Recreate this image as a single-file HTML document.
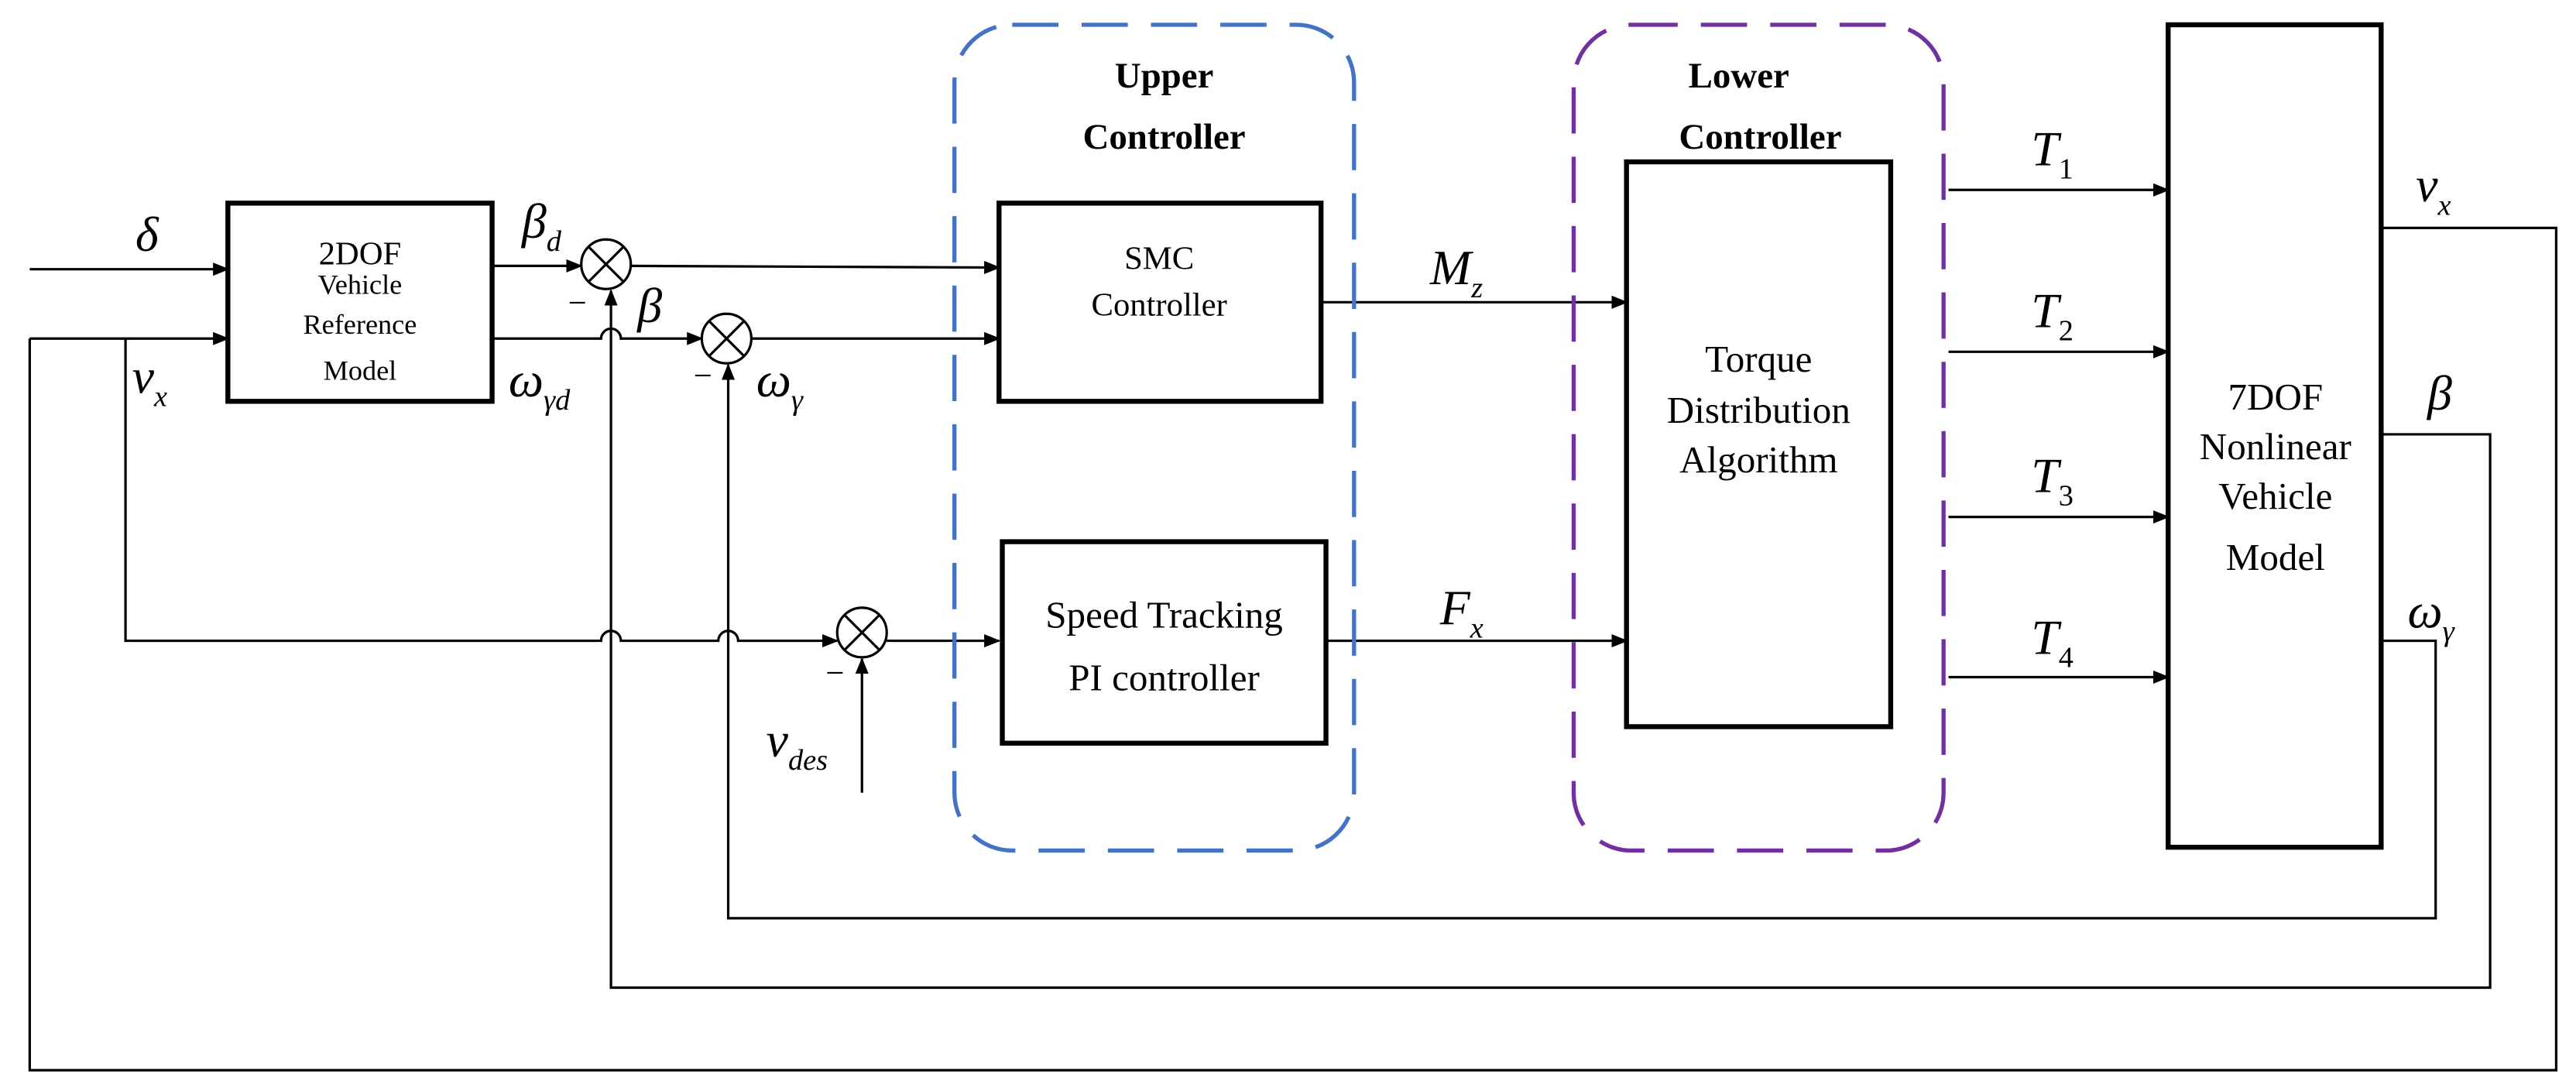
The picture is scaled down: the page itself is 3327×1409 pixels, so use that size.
<!DOCTYPE html>
<html><head><meta charset="utf-8"><style>
html,body{margin:0;padding:0;background:#fff;}
svg{display:block;}
text{font-family:"Liberation Serif",serif;fill:#000;}
.it{font-style:italic;}
</style></head><body>
<svg width="3327" height="1409" viewBox="0 0 1560 660.6" preserveAspectRatio="none" xmlns="http://www.w3.org/2000/svg">
<defs><marker id="a" markerWidth="10" markerHeight="8" refX="9" refY="4" orient="auto" markerUnits="userSpaceOnUse"><path d="M0,0 L10,4 L0,8 z" fill="#000"/></marker></defs>
<g fill="none" stroke="#000" stroke-width="1.5">
<line x1="18" y1="163" x2="138" y2="163" marker-end="url(#a)"/>
<line x1="18" y1="205" x2="138" y2="205" marker-end="url(#a)"/>
<polyline points="1442,138 1548,138 1548,648 18,648 18,205"/>
<path d="M76,205 V388 H364 A6,6 0 0 1 376,388 H435 A6,6 0 0 1 447,388 H507" marker-end="url(#a)"/>
<line x1="298" y1="161" x2="352" y2="161" marker-end="url(#a)"/>
<line x1="382" y1="161" x2="605" y2="162" marker-end="url(#a)"/>
<path d="M298,205 H364 A6,6 0 0 1 376,205 H425" marker-end="url(#a)"/>
<line x1="455" y1="205" x2="605" y2="205" marker-end="url(#a)"/>
<polyline points="1442,263 1508,263 1508,598 370,598 370,176" marker-end="url(#a)"/>
<polyline points="1442,388 1475,388 1475,556 441,556 441,221" marker-end="url(#a)"/>
<line x1="537" y1="388" x2="605" y2="388" marker-end="url(#a)"/>
<line x1="522" y1="480" x2="522" y2="399" marker-end="url(#a)"/>
<line x1="800" y1="183" x2="985" y2="183" marker-end="url(#a)"/>
<line x1="803" y1="388" x2="985" y2="388" marker-end="url(#a)"/>
<line x1="1180" y1="115" x2="1313" y2="115" marker-end="url(#a)"/>
<line x1="1180" y1="213" x2="1313" y2="213" marker-end="url(#a)"/>
<line x1="1180" y1="313" x2="1313" y2="313" marker-end="url(#a)"/>
<line x1="1180" y1="410" x2="1313" y2="410" marker-end="url(#a)"/>
</g>
<g fill="#fff" stroke="#000" stroke-width="1.5">
<circle cx="367" cy="160" r="15"/><path d="M356.4,149.4 L377.6,170.6 M377.6,149.4 L356.4,170.6"/>
<circle cx="440" cy="205" r="15"/><path d="M429.4,194.4 L450.6,215.6 M450.6,194.4 L429.4,215.6"/>
<circle cx="522" cy="383" r="15"/><path d="M511.4,372.4 L532.6,393.6 M532.6,372.4 L511.4,393.6"/>
</g>
<g fill="none" stroke="#000" stroke-width="3">
<rect x="138" y="123" width="160" height="120"/>
<rect x="605" y="123" width="195" height="120"/>
<rect x="607" y="328" width="196" height="122"/>
<rect x="985" y="98" width="160" height="342"/>
<rect x="1313" y="15" width="129" height="498"/>
</g>
<rect x="578" y="15" width="242" height="500" rx="35" fill="none" stroke="#4472c4" stroke-width="2.5" stroke-dasharray="28,14"/>
<rect x="953" y="15" width="224" height="500" rx="35" fill="none" stroke="#7030a0" stroke-width="2.5" stroke-dasharray="28,14"/>
<g font-size="17" text-anchor="middle">
<text x="218" y="160" font-size="20">2DOF</text>
<text x="218" y="178">Vehicle</text>
<text x="218" y="202">Reference</text>
<text x="218" y="230">Model</text>
</g>
<g font-size="22" text-anchor="middle" style="font-family:'Liberation Sans',sans-serif">
<text x="705" y="53" font-weight="bold" style="font-family:'Liberation Serif',serif">Upper</text>
<text x="705" y="90" font-weight="bold" style="font-family:'Liberation Serif',serif">Controller</text>
<text x="1053" y="53" font-weight="bold" style="font-family:'Liberation Serif',serif">Lower</text>
<text x="1066" y="90" font-weight="bold" style="font-family:'Liberation Serif',serif">Controller</text>
<text x="702" y="163" font-size="20">SMC</text>
<text x="702" y="191" font-size="20">Controller</text>
</g>
<g font-size="23" text-anchor="middle">
<text x="705" y="380">Speed Tracking</text>
<text x="705" y="418">PI controller</text>
<text x="1065" y="225">Torque</text>
<text x="1065" y="256">Distribution</text>
<text x="1065" y="286">Algorithm</text>
<text x="1378" y="248">7DOF</text>
<text x="1378" y="278">Nonlinear</text>
<text x="1378" y="308">Vehicle</text>
<text x="1378" y="345">Model</text>
</g>
<g font-size="30" class="it">
<text x="82" y="152">δ</text>
<text x="316" y="144">β<tspan font-size="18" dy="8">d</tspan></text>
<text x="386" y="195">β</text>
<text x="308" y="240">ω<tspan font-size="18" dy="8">γd</tspan></text>
<text x="458" y="240">ω<tspan font-size="18" dy="8">γ</tspan></text>
<text x="80" y="238">v<tspan font-size="18" dy="8">x</tspan></text>
<text x="464" y="458">v<tspan font-size="18" dy="8">des</tspan></text>
<text x="866" y="172">M<tspan font-size="18" dy="8">z</tspan></text>
<text x="872" y="378">F<tspan font-size="18" dy="8">x</tspan></text>
<text x="1230" y="100">T<tspan font-size="18" dy="8" font-style="normal">1</tspan></text>
<text x="1230" y="198">T<tspan font-size="18" dy="8" font-style="normal">2</tspan></text>
<text x="1230" y="298">T<tspan font-size="18" dy="8" font-style="normal">3</tspan></text>
<text x="1230" y="396">T<tspan font-size="18" dy="8" font-style="normal">4</tspan></text>
<text x="1463" y="122">v<tspan font-size="18" dy="8">x</tspan></text>
<text x="1470" y="248">β</text>
<text x="1458" y="380">ω<tspan font-size="18" dy="8">γ</tspan></text>
</g>
<g font-size="20">
<text x="344" y="190">−</text>
<text x="420" y="234">−</text>
<text x="500" y="414">−</text>
</g>
</svg>
</body></html>
